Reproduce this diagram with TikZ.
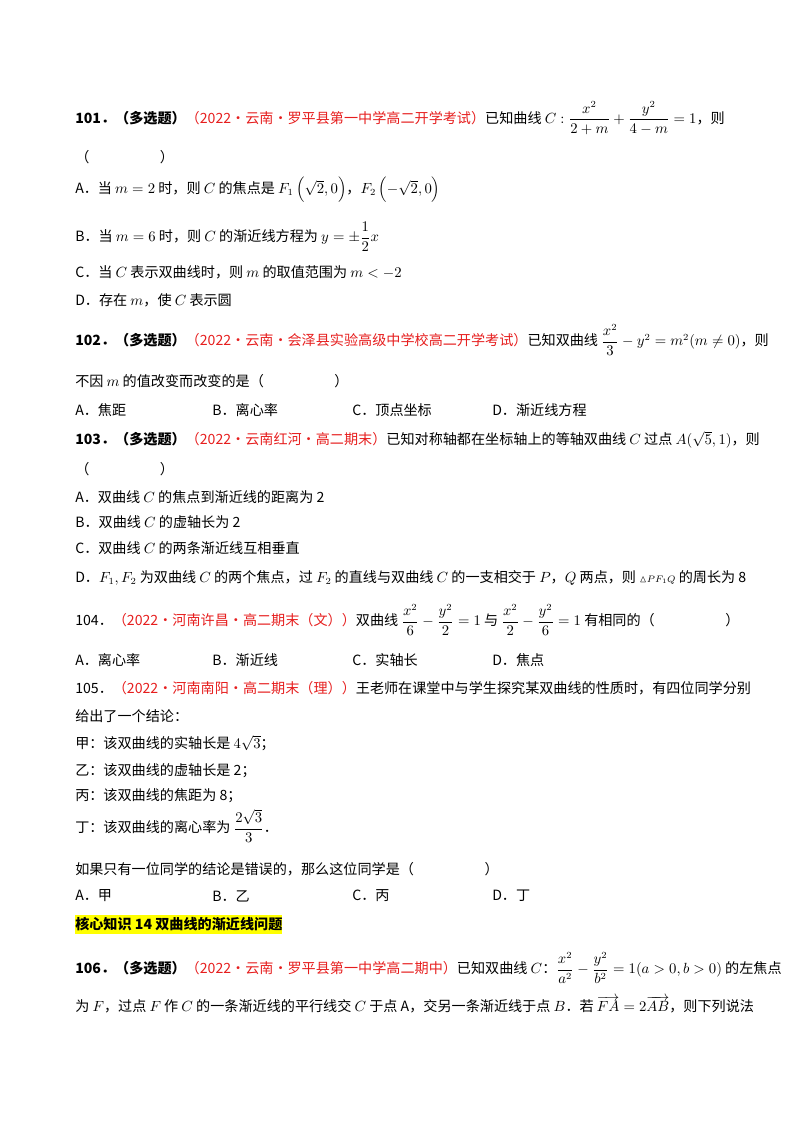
\documentclass[tikz,border=0pt]{standalone}
\usepackage{fontspec}
\usepackage{amsmath,amssymb}
\setmainfont{Noto Sans CJK SC}
\definecolor{qred}{RGB}{230,30,30}
\definecolor{hlyellow}{RGB}{255,255,0}
\newcommand{\src}[1]{\textcolor{qred}{#1}}
\tikzset{
  line/.style={anchor=west, inner sep=0pt, font=\fontsize{10.5}{12}\selectfont},
  head/.style={line, fill=hlyellow, inner ysep=2pt, font=\fontsize{10.5}{12}\selectfont\bfseries},
}
\begin{document}
\begin{tikzpicture}[x=0.744pt,y=-0.744pt]
        \useasboundingbox (0,0) rectangle (800,1132);
        \node (q101) at (75,118) [line] {\textbf{101．（多选题）}\src{（2022·云南·罗平县第一中学高二开学考试）}已知曲线 $C:\dfrac{x^2}{2+m}+\dfrac{y^2}{4-m}=1$，则};
        \node (q101b) at (75,157) [line] {（\hspace{5em}）};
        \node (q101A) at (75,190) [line] {A．当 $m=2$ 时，则 $C$ 的焦点是 $F_1\left(\sqrt{2},0\right)$，$F_2\left(-\sqrt{2},0\right)$};
        \node (q101B) at (75,237) [line] {B．当 $m=6$ 时，则 $C$ 的渐近线方程为 $y=\pm\dfrac{1}{2}x$};
        \node (q101C) at (75,272) [line] {C．当 $C$ 表示双曲线时，则 $m$ 的取值范围为 $m<-2$};
        \node (q101D) at (75,300) [line] {D．存在 $m$，使 $C$ 表示圆};
        \node (q102) at (75,340) [line] {\textbf{102．（多选题）}\src{（2022·云南·会泽县实验高级中学校高二开学考试）}已知双曲线 $\dfrac{x^2}{3}-y^2=m^2(m\neq0)$，则};
        \node (q102b) at (75,381) [line] {不因 $m$ 的值改变而改变的是（\hspace{5em}）};
        \node (q102A) at (75,410) [line] {A．焦距};
        \node (q102B) at (212,410) [line] {B．离心率};
        \node (q102C) at (352,410) [line] {C．顶点坐标};
        \node (q102D) at (492,410) [line] {D．渐近线方程};
        \node (q103) at (75,440) [line] {\textbf{103．（多选题）}\src{（2022·云南红河·高二期末）}已知对称轴都在坐标轴上的等轴双曲线 $C$ 过点 $A(\sqrt{5},1)$，则};
        \node (q103b) at (75,469) [line] {（\hspace{5em}）};
        \node (q103A) at (75,497) [line] {A．双曲线 $C$ 的焦点到渐近线的距离为 2};
        \node (q103B) at (75,522) [line] {B．双曲线 $C$ 的虚轴长为 2};
        \node (q103C) at (75,548) [line] {C．双曲线 $C$ 的两条渐近线互相垂直};
        \node (q103D) at (75,578) [line] {D．$F_1,F_2$ 为双曲线 $C$ 的两个焦点，过 $F_2$ 的直线与双曲线 $C$ 的一支相交于 $P$，$Q$ 两点，则 ${\scriptstyle\vartriangle PF_1Q}$ 的周长为 8};
        \node (q104) at (75,620) [line] {104．\src{（2022·河南许昌·高二期末（文））}双曲线 $\dfrac{x^2}{6}-\dfrac{y^2}{2}=1$ 与 $\dfrac{x^2}{2}-\dfrac{y^2}{6}=1$ 有相同的（\hspace{5em}）};
        \node (q104A) at (75,660) [line] {A．离心率};
        \node (q104B) at (212,660) [line] {B．渐近线};
        \node (q104C) at (352,660) [line] {C．实轴长};
        \node (q104D) at (492,660) [line] {D．焦点};
        \node (q105) at (75,688) [line] {105．\src{（2022·河南南阳·高二期末（理））}王老师在课堂中与学生探究某双曲线的性质时，有四位同学分别};
        \node (q105b) at (75,716) [line] {给出了一个结论：};
        \node (q105j) at (75,743) [line] {甲：该双曲线的实轴长是 $4\sqrt{3}$；};
        \node (q105y) at (75,771) [line] {乙：该双曲线的虚轴长是 2；};
        \node (q105b2) at (75,796) [line] {丙：该双曲线的焦距为 8；};
        \node (q105d) at (75,826) [line] {丁：该双曲线的离心率为 $\dfrac{2\sqrt{3}}{3}$．};
        \node (q105q) at (75,869) [line] {如果只有一位同学的结论是错误的，那么这位同学是（\hspace{5em}）};
        \node (q105A) at (75,896) [line] {A．甲};
        \node (q105B) at (212,896) [line] {B．乙};
        \node (q105C) at (352,896) [line] {C．丙};
        \node (q105D) at (492,896) [line] {D．丁};
        \node (sec14) at (75,924) [head] {核心知识 14\ 双曲线的渐近线问题};
        \node (q106) at (75,968) [line] {\textbf{106．（多选题）}\src{（2022·云南·罗平县第一中学高二期中）}已知双曲线 $C$：$\dfrac{x^2}{a^2}-\dfrac{y^2}{b^2}=1(a>0,b>0)$ 的左焦点};
        \node (q106b) at (75,1005) [line] {为 $F$，过点 $F$ 作 $C$ 的一条渐近线的平行线交 $C$ 于点 A，交另一条渐近线于点 $B$．若 $\overrightarrow{FA}=2\overrightarrow{AB}$，则下列说法};
\end{tikzpicture}
\end{document}
